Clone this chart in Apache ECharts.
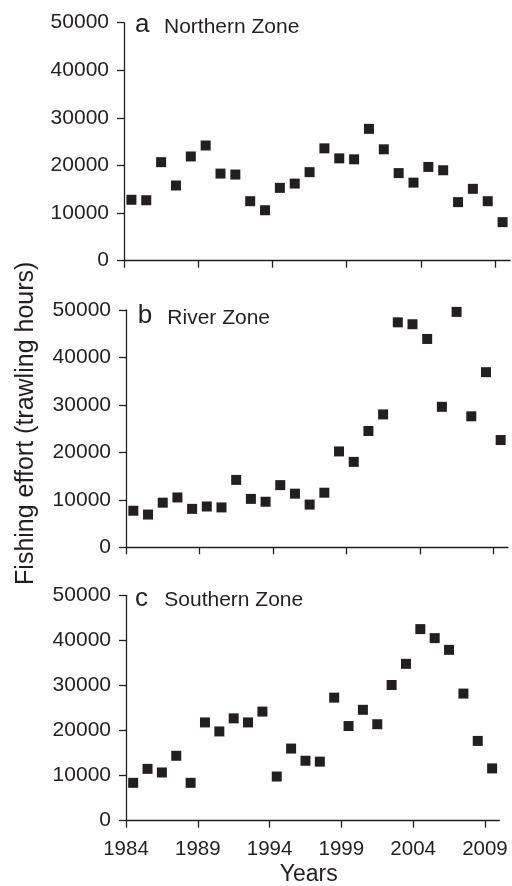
<!DOCTYPE html>
<html>
<head>
<meta charset="utf-8">
<script src="https://cdn.jsdelivr.net/npm/echarts@6/dist/echarts.min.js"></script>
<style>
  html, body { margin: 0; padding: 0; background: #fff; }
  #chart { width: 512px; height: 886px; }
</style>
</head>
<body>
<div id="chart"></div>
<script>
// fishing effort (trawling hours) per year
const years = [1984, 1985, 1986, 1987, 1988, 1989, 1990, 1991, 1992, 1993, 1994, 1995, 1996,
  1997, 1998, 1999, 2000, 2001, 2002, 2003, 2004, 2005, 2006, 2007, 2008, 2009];
const northern = [12800, 12700, 20700, 15800, 21900, 24200, 18300, 18100, 12500, 10600, 15300, 16200, 18600,
  23600, 21500, 21300, 27700, 23400, 18400, 16400, 19700, 19000, 12300, 15100, 12500, 8100];
const river = [7700, 6900, 9400, 10500, 8100, 8600, 8400, 14200, 10200, 9600, 13100, 11300, 9000,
  11500, 20200, 18000, 24500, 28000, 47400, 47000, 43900, 29600, 49600, 27600, 36900, 22600];
const southern = [8400, 11500, 10700, 14400, 8400, 21800, 19800, 22700, 21800, 24200, 9800, 16000, 13300,
  13100, 27300, 21000, 24600, 21400, 30100, 34800, 42500, 40500, 37900, 28200, 17700, 11600];
const xTicks = [1984, 1989, 1994, 1999, 2004, 2009];
const panels = [
  { letter: "a", name: "Northern Zone", values: northern },
  { letter: "b", name: "River Zone", values: river },
  { letter: "c", name: "Southern Zone", values: southern }
];

const ink = "#231f20";
const font = "'Liberation Sans', Arial, Helvetica, sans-serif";

const grids = [
  { left: 124, top: 22.7, width: 386, height: 238 },
  { left: 126, top: 310, width: 382, height: 237.3 },
  { left: 126, top: 595.3, width: 373.3, height: 225.4 }
];
// label placement per panel: [letter x, name x, baseline y]
const labelPos = [[135, 164, 33.3], [137.7, 167.3, 324.3], [135, 164.3, 607]];

const chart = echarts.init(document.getElementById("chart"));

const plain = v => String(v);

const xAxes = grids.map((g, i) => ({
  type: "value", gridIndex: i, min: 1984, max: 2010,
  splitLine: { show: false },
  axisLine: { lineStyle: { color: ink, width: 1.3 } },
  axisTick: { show: true, length: 7, customValues: xTicks, lineStyle: { color: ink, width: 1.3 } },
  axisLabel: {
    show: i === 2, customValues: xTicks, margin: 18, formatter: plain,
    color: ink, fontSize: 20.5, fontFamily: font
  }
}));

const yAxes = grids.map((g, i) => ({
  type: "value", gridIndex: i, min: 0, max: 50000, interval: 10000,
  splitLine: { show: false },
  axisLine: { show: true, lineStyle: { color: ink, width: 1.3 } },
  axisTick: { show: true, length: 7, lineStyle: { color: ink, width: 1.3 } },
  axisLabel: { margin: 15, formatter: plain, color: ink, fontSize: 21, fontFamily: font }
}));

const series = panels.map((p, i) => ({
  type: "scatter", xAxisIndex: i, yAxisIndex: i,
  symbol: "rect", symbolSize: 10,
  itemStyle: { color: ink, opacity: 1 },
  data: years.map((y, k) => [y + 0.5, p.values[k]])
}));

const graphics = [];
panels.forEach((p, i) => {
  const [lx, nx, base] = labelPos[i];
  graphics.push({
    type: "text", left: lx, top: base - 0.81 * 26,
    style: { text: p.letter, fill: ink, font: "26px " + font }
  });
  graphics.push({
    type: "text", left: nx, top: base - 0.81 * 21,
    style: { text: p.name, fill: ink, font: "21px " + font }
  });
});
graphics.push({
  type: "text", x: 26.6, y: 423.3, rotation: Math.PI / 2,
  style: {
    text: "Fishing effort (trawling hours)", fill: ink, font: "25px " + font,
    align: "center", verticalAlign: "middle"
  }
});
graphics.push({
  type: "text", x: 308.7, y: 874.6,
  style: { text: "Years", fill: ink, font: "23px " + font, align: "center", verticalAlign: "middle" }
});

chart.setOption({
  animation: false,
  grid: grids,
  xAxis: xAxes,
  yAxis: yAxes,
  series: series,
  graphic: graphics
});
</script>
</body>
</html>
